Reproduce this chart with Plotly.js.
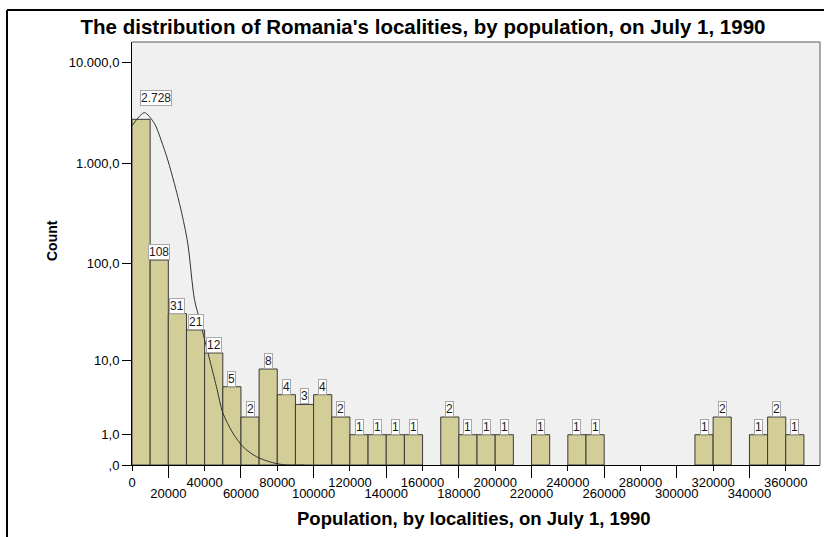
<!DOCTYPE html>
<html>
<head>
<meta charset="utf-8">
<script src="https://cdn.plot.ly/plotly-3.0.1.min.js"></script>
<style>
  html, body { margin: 0; padding: 0; background: #ffffff; }
  #chart { width: 824px; height: 537px; }
</style>
</head>
<body>
<div id="chart"></div>
<script>
// Histogram bins: lower edge of each 10 000-wide class and its count
const binStarts = [0, 10000, 20000, 30000, 40000, 50000, 60000, 70000, 80000, 90000,
  100000, 110000, 120000, 130000, 140000, 150000, 160000, 170000, 180000, 190000,
  200000, 210000, 220000, 230000, 240000, 250000, 260000, 270000, 280000, 290000,
  300000, 310000, 320000, 330000, 340000, 350000, 360000];
const binCounts = [2728, 108, 31, 21, 12, 5, 2, 8, 4, 3,
  4, 2, 1, 1, 1, 1, 0, 2, 1, 1,
  1, 0, 1, 0, 1, 1, 0, 0, 0, 0,
  0, 1, 2, 0, 1, 2, 1];
const binWidth = 10000;

// Fitted normal curve (population, expected count)
const curveX = [0, 6800, 12300, 16000, 19700, 23300, 27000, 30700, 34400, 37300,
  40000, 42800, 46500, 50100, 55600, 61100, 68500, 77600, 85000, 95000];
const curveY = [2350, 3180, 2490, 1700, 1075, 630, 342, 159, 43, 26.6,
  16.5, 10.1, 5.0, 2.27, 1.07, 0.52, 0.21, 0.054, 0, 0];

// Axis ticks
const yTickCounts = [0, 1, 10, 100, 1000, 10000];
const yTickText = [',0', '1,0', '10,0', '100,0', '1.000,0', '10.000,0'];
const xTicksUpper = [0, 40000, 80000, 120000, 160000, 200000, 240000, 280000, 320000, 360000];
const xTicksLower = [20000, 60000, 100000, 140000, 180000, 220000, 260000, 300000, 340000];

const titleText = "The distribution of Romania's localities, by population, on July 1, 1990";
const xTitleText = 'Population, by localities, on July 1, 1990';
const yTitleText = 'Count';

// "safe log" count scale: log10(1 + n)
const slog = v => Math.log10(1 + v);
const fmt = n => String(n).replace(/\B(?=(\d{3})+(?!\d))/g, '.');

const FONT = 'Liberation Sans, Arial, sans-serif';
const W = 824, H = 537;
const M = { l: 132, r: 4, t: 42, b: 72 };
const plotW = W - M.l - M.r, plotH = H - M.t - M.b;
const px = x => (x - M.l) / plotW;        // pixel -> paper x
const py = y => (H - M.b - y) / plotH;    // pixel -> paper y

const bx = [], by = [], bc = [];
binStarts.forEach((s, i) => {
  if (binCounts[i] > 0) {
    bx.push(s + binWidth / 2);
    by.push(slog(binCounts[i]));
    bc.push(binCounts[i]);
  }
});

const bars = {
  type: 'bar', x: bx, y: by, width: binWidth,
  marker: { color: '#d3ce97', line: { color: '#3a3a3a', width: 1 } },
  hoverinfo: 'skip', showlegend: false
};

const curve = {
  type: 'scatter', mode: 'lines',
  x: curveX, y: curveY.map(slog),
  line: { color: '#333333', width: 1, shape: 'spline', smoothing: 0.8 },
  hoverinfo: 'skip', showlegend: false
};

// Second x axis carries the staggered (lower row) tick labels
const lowerTicks = {
  type: 'scatter', mode: 'markers', x: [0], y: [0], xaxis: 'x2',
  marker: { opacity: 0 }, hoverinfo: 'skip', showlegend: false
};

const annotations = bc.map((c, i) => ({
  x: bx[i], y: by[i], xref: 'x', yref: 'y',
  text: fmt(c), showarrow: false,
  xanchor: 'center', yanchor: 'bottom',
  xshift: i === 0 ? 15 : 0, yshift: i === 0 ? 13 : 0,
  bgcolor: '#ffffff', bordercolor: '#a8a8a8', borderwidth: 1, borderpad: 0,
  font: { family: FONT, size: 12, color: '#1a1a1a' }
}));

annotations.push({
  x: px(474), y: py(518), xref: 'paper', yref: 'paper',
  text: '<b>' + xTitleText + '</b>', showarrow: false,
  xanchor: 'center', yanchor: 'middle',
  font: { family: FONT, size: 18.5, color: '#000000' }
});
annotations.push({
  x: px(52), y: py(241), xref: 'paper', yref: 'paper',
  text: '<b>' + yTitleText + '</b>', showarrow: false, textangle: -90,
  xanchor: 'center', yanchor: 'middle',
  font: { family: FONT, size: 14, color: '#000000' }
});

const xRange = [0, plotW / 18.16 * binWidth];
const yRange = [0, plotH / 100.6];

const layout = {
  width: W, height: H,
  margin: M,
  paper_bgcolor: '#ffffff',
  plot_bgcolor: '#f0f0f0',
  title: {
    text: '<b>' + titleText + '</b>',
    x: 423 / W, xanchor: 'center', xref: 'container',
    y: 1 - 27 / H, yanchor: 'middle', yref: 'container',
    font: { family: FONT, size: 20.5, color: '#000000' }
  },
  bargap: 0,
  xaxis: {
    range: xRange, showgrid: false, zeroline: false,
    showline: true, linecolor: '#000000', linewidth: 1,
    ticks: 'outside', ticklen: 5, tickcolor: '#000000', tickwidth: 1,
    tickmode: 'array', tickvals: xTicksUpper, ticktext: xTicksUpper.map(String),
    tickfont: { family: FONT, size: 13, color: '#000000' }
  },
  xaxis2: {
    overlaying: 'x', anchor: 'y', side: 'bottom', matches: 'x',
    range: xRange, showgrid: false, zeroline: false, showline: false,
    ticks: 'outside', ticklen: 12, tickcolor: '#000000', tickwidth: 1,
    tickmode: 'array', tickvals: xTicksLower, ticktext: xTicksLower.map(String),
    ticklabelstandoff: 4,
    tickfont: { family: FONT, size: 13, color: '#000000' }
  },
  yaxis: {
    range: yRange, showgrid: false, zeroline: false,
    showline: true, linecolor: '#000000', linewidth: 1,
    ticks: 'outside', ticklen: 9, tickcolor: '#000000', tickwidth: 1,
    tickmode: 'array', tickvals: yTickCounts.map(slog), ticktext: yTickText,
    tickfont: { family: FONT, size: 13, color: '#000000' }
  },
  shapes: [
    // plot frame (top and right)
    { type: 'line', xref: 'paper', yref: 'paper', x0: 0, x1: 1, y0: 1, y1: 1,
      line: { color: '#8c8c8c', width: 1.5 } },
    { type: 'line', xref: 'paper', yref: 'paper', x0: 1, x1: 1, y0: 0, y1: 1,
      line: { color: '#8c8c8c', width: 1.5 } },
    // outer chart border
    { type: 'line', xref: 'paper', yref: 'paper', x0: px(7), x1: px(7), y0: py(545), y1: py(10),
      line: { color: '#000000', width: 2 } },
    { type: 'line', xref: 'paper', yref: 'paper', x0: px(7), x1: px(830), y0: py(10), y1: py(10),
      line: { color: '#000000', width: 2 } }
  ],
  annotations: annotations,
  showlegend: false
};

Plotly.newPlot('chart', [bars, curve, lowerTicks], layout, { displayModeBar: false, staticPlot: true });
</script>
</body>
</html>
